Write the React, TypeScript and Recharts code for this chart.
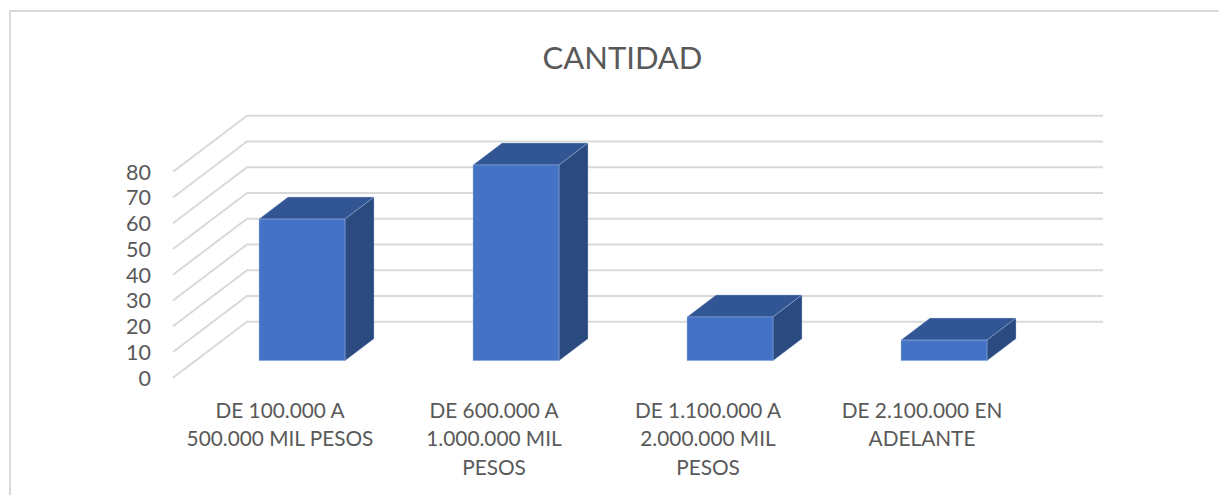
import { Bar, BarChart, CartesianGrid, XAxis, YAxis } from "recharts";

const categories = [
  "DE 100.000 A\n500.000 MIL PESOS",
  "DE 600.000 A\n1.000.000 MIL\nPESOS",
  "DE 1.100.000 A\n2.000.000 MIL\nPESOS",
  "DE 2.100.000 EN\nADELANTE",
];
const cantidad = [55, 76, 17, 8];
const yTicks = [0, 10, 20, 30, 40, 50, 60, 70, 80];

const data = categories.map((name, i) => ({ name, cantidad: cantidad[i] }));

const FONT = "Lato, 'Noto Sans', sans-serif";
const TEXT = "#595959";
const GRID = "#d9d9d9";

// floor of the 3d box, in px
const WALL_DX = 74;
const WALL_DY = 56;
// bars sit partway back on the floor
const BAR_DX = 22;
const BAR_DY = 17;
const BAR_DEPTH_X = 29;
const BAR_DEPTH_Y = 22;

function WallLine(props: any) {
  const { x1, x2, y1 } = props;
  return (
    <polyline
      points={`${x1},${y1} ${x1 + WALL_DX},${y1 - WALL_DY} ${x2 + WALL_DX},${y1 - WALL_DY}`}
      fill="none"
      stroke={GRID}
      strokeWidth={2}
    />
  );
}

function Box3D(props: any) {
  const { x, y, width, height } = props;
  const l = x + BAR_DX;
  const r = l + width;
  const t = y - BAR_DY;
  const b = t + height;
  const dx = BAR_DEPTH_X;
  const dy = BAR_DEPTH_Y;
  const edge = "rgba(170,195,235,0.55)";
  return (
    <g>
      <polygon
        points={`${l},${t} ${l + dx},${t - dy} ${r + dx},${t - dy} ${r},${t}`}
        fill="#325694"
        stroke={edge}
        strokeWidth={0.7}
      />
      <polygon
        points={`${r},${t} ${r + dx},${t - dy} ${r + dx},${b - dy} ${r},${b}`}
        fill="#2a4a80"
        stroke={edge}
        strokeWidth={0.7}
      />
      <rect x={l} y={t} width={width} height={height} fill="#4472c4" stroke={edge} strokeWidth={0.7} />
    </g>
  );
}

function CategoryTick(props: any) {
  const { x, y, payload } = props;
  const lines = String(payload.value).split("\n");
  return (
    <text x={x} y={y} textAnchor="middle" fill={TEXT} fontSize={20.8} fontFamily={FONT}>
      {lines.map((line, i) => (
        <tspan key={i} x={x} dy={i === 0 ? 0 : 28.5}>
          {line}
        </tspan>
      ))}
    </text>
  );
}

function ValueTick(props: any) {
  const { x, y, payload } = props;
  return (
    <text x={x} y={y + 8} textAnchor="end" fill={TEXT} fontSize={21.5} fontFamily={FONT}>
      {payload.value}
    </text>
  );
}

export default function App() {
  return (
    <div style={{ position: "absolute", left: 0, top: 0, width: 1219, height: 495, background: "#fff", overflow: "hidden" }}>
      <div
        style={{
          position: "absolute",
          left: 9,
          top: 10,
          width: 1300,
          height: 600,
          border: "2px solid #d9d9d9",
          boxSizing: "border-box",
        }}
      />
      <div
        style={{
          position: "absolute",
          left: 0,
          top: 36,
          width: 1245,
          textAlign: "center",
          fontFamily: FONT,
          fontSize: 31,
          lineHeight: "42px",
          color: TEXT,
        }}
      >
        CANTIDAD
      </div>
      <BarChart
        width={1219}
        height={495}
        data={data}
        barSize={86}
        margin={{ top: 171.7, right: 190, bottom: 0, left: 123 }}
        style={{ position: "absolute", left: 0, top: 0 }}
      >
        <CartesianGrid horizontal={WallLine} vertical={false} />
        <XAxis
          dataKey="name"
          axisLine={false}
          tickLine={false}
          tickSize={0}
          height={117.3}
          interval={0}
          tick={<CategoryTick />}
          tickMargin={40}
        />
        <YAxis
          type="number"
          domain={[0, 80]}
          ticks={yTicks}
          interval={0}
          width={50}
          axisLine={false}
          tickLine={false}
          tickSize={0}
          tickMargin={22}
          tick={<ValueTick />}
        />
        <Bar dataKey="cantidad" isAnimationActive={false} shape={Box3D} />
      </BarChart>
    </div>
  );
}
